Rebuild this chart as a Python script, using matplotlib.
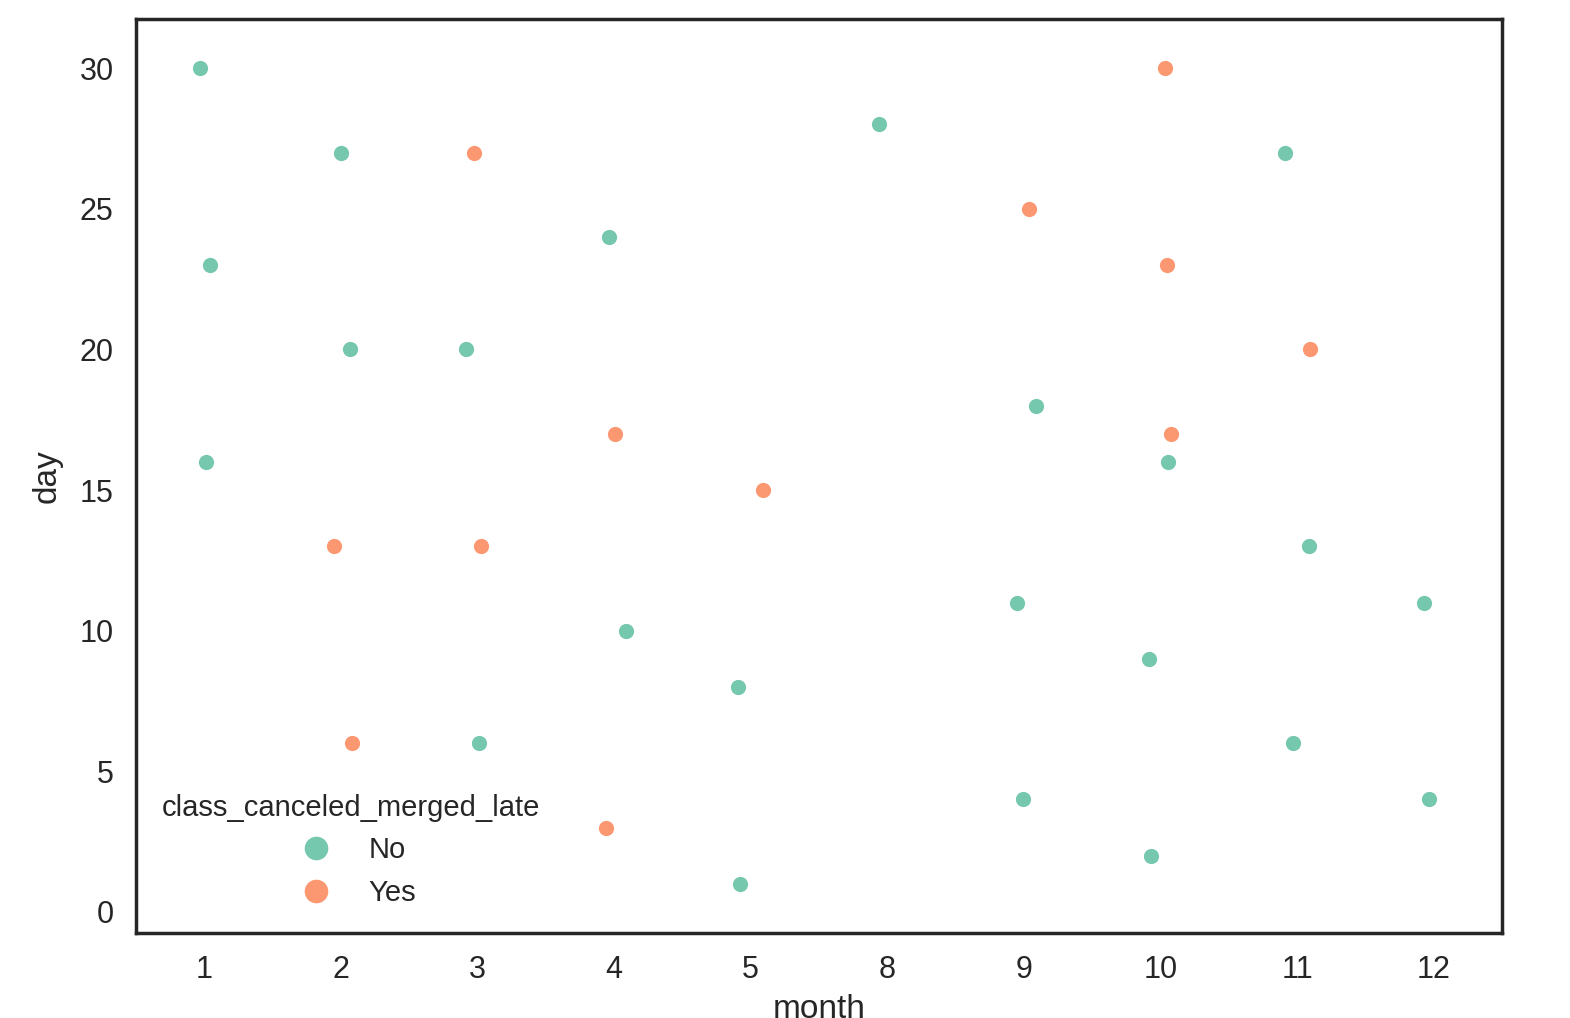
import matplotlib
matplotlib.use("Agg")
import matplotlib.pyplot as plt
from matplotlib.lines import Line2D

plt.rcParams['font.family'] = ['Liberation Sans', 'DejaVu Sans']

months = [1, 2, 3, 4, 5, 8, 9, 10, 11, 12]
# (month, day, late) records
rec_month = [1, 1, 1,
             2, 2, 2, 2,
             3, 3, 3, 3,
             4, 4, 4, 4,
             5, 5, 5,
             8,
             9, 9, 9, 9,
             10, 10, 10, 10, 10, 10,
             11, 11, 11, 11,
             12, 12]
rec_day = [30, 23, 16,
           27, 20, 13, 6,
           27, 20, 13, 6,
           24, 17, 10, 3,
           15, 8, 1,
           28,
           25, 18, 11, 4,
           30, 23, 17, 16, 9, 2,
           27, 20, 13, 6,
           11, 4]
rec_late = ['No', 'No', 'No',
            'No', 'No', 'Yes', 'Yes',
            'Yes', 'No', 'Yes', 'No',
            'No', 'Yes', 'No', 'Yes',
            'Yes', 'No', 'No',
            'No',
            'Yes', 'No', 'No', 'No',
            'Yes', 'Yes', 'Yes', 'No', 'No', 'No',
            'No', 'Yes', 'No', 'No',
            'No', 'No']
# horizontal jitter (category units)
rec_jitter = [-0.03, 0.045, 0.015,
              0.0, 0.065, -0.047, 0.085,
              -0.028, -0.087, 0.023, 0.01,
              -0.038, 0.006, 0.087, -0.06,
              0.09, -0.09, -0.078,
              -0.059,
              0.034, 0.092, -0.054, -0.01,
              0.03, 0.045, 0.075, 0.053, -0.087, -0.072,
              -0.089, 0.094, 0.087, -0.03,
              -0.07, -0.033]

hue_levels = ['No', 'Yes']
palette = {'No': '#66c2a5', 'Yes': '#fc8d62'}

fig = plt.figure(figsize=(7.85, 5.09), dpi=200)
ax = fig.add_axes([0.0866, 0.0835, 0.8701, 0.8978])

for lvl in hue_levels:
    xs = [months.index(m) + j for m, l, j in zip(rec_month, rec_late, rec_jitter) if l == lvl]
    ys = [d for d, l in zip(rec_day, rec_late) if l == lvl]
    ax.scatter(xs, ys, s=30, color=palette[lvl], linewidths=0, alpha=0.9, zorder=3)

ax.set_xlim(-0.5, len(months) - 0.5)
ax.set_ylim(-0.75, 31.75)
ax.set_xticks(range(len(months)))
ax.set_xticklabels([str(m) for m in months])
ax.set_yticks([0, 5, 10, 15, 20, 25, 30])
ax.tick_params(axis='both', labelsize=11, colors='#262626', length=0, pad=8)
ax.set_xlabel('month', fontsize=12, color='#262626', labelpad=3)
ax.set_ylabel('day', fontsize=12, color='#262626', labelpad=6)
for sp in ax.spines.values():
    sp.set_color('#262626')
    sp.set_linewidth(1.25)

handles = [Line2D([], [], linestyle='none', marker='o', markersize=8.5,
                  markerfacecolor=palette[l], markeredgecolor='none', alpha=0.9) for l in hue_levels]
leg = ax.legend(handles, hue_levels, title='class_canceled_merged_late', loc='lower left',
                frameon=False, fontsize=10.5, title_fontsize=10.5, bbox_to_anchor=(0.0, 0.0))
for t in leg.get_texts():
    t.set_color('#262626')
leg.get_title().set_color('#262626')

fig.savefig('out.png', dpi=200)
